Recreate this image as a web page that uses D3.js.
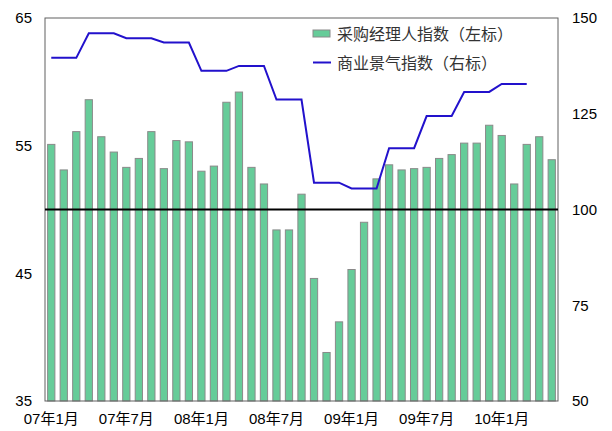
<!DOCTYPE html>
<html>
<head>
<meta charset="utf-8">
<script src="https://cdn.jsdelivr.net/npm/d3@7"></script>
<style>
  body { margin: 0; background: #fff; }
  text { font-family: Arial, "Liberation Sans", "Noto Sans CJK SC", sans-serif; }
</style>
</head>
<body>
<svg id="chart"></svg>
<script>
// months 07年1月 .. 10年5月
let months = []
for (let y = 7; y <= 10; y++) {
  for (let m = 1; m <= 12; m++) {
    if (y === 10 && m > 5) break
    months.push("0".concat(y).slice(-2) + "年" + m + "月")
  }
}

let pmi = [55.1, 53.1, 56.1, 58.6, 55.7, 54.5, 53.3, 54.0, 56.1, 53.2, 55.4, 55.3,
  53.0, 53.4, 58.4, 59.2, 53.3, 52.0, 48.4, 48.4, 51.2, 44.6, 38.8, 41.2,
  45.3, 49.0, 52.4, 53.5, 53.1, 53.2, 53.3, 54.0, 54.3, 55.2, 55.2, 56.6,
  55.8, 52.0, 55.1, 55.7, 53.9]

let business = [139.6, 139.6, 139.6, 146, 146, 146, 144.7, 144.7, 144.7, 143.6, 143.6, 143.6,
  136.2, 136.2, 136.2, 137.5, 137.5, 137.5, 128.7, 128.7, 128.7, 107, 107, 107,
  105.5, 105.5, 105.5, 116, 116, 116, 124.4, 124.4, 124.4, 130.7, 130.7, 130.7,
  132.8, 132.8, 132.8]

let leftTicks = [35, 45, 55, 65]
let rightTicks = [50, 75, 100, 125, 150]
let xLabels = ["07年1月", "07年7月", "08年1月", "08年7月", "09年1月", "09年7月", "10年1月"]
let legendNames = ["采购经理人指数（左标）", "商业景气指数（右标）"]

let width = 612, height = 431
let margin = {top: 18, right: 54, bottom: 30, left: 45}

let svg = d3.select("#chart")
  .attr("width", width)
  .attr("height", height)

let x = d3.scaleBand()
  .domain(months)
  .range([margin.left, width - margin.right])
  .paddingInner(0.42)
  .paddingOuter(0.21)

let yL = d3.scaleLinear().domain([35, 65]).range([height - margin.bottom, margin.top])
let yR = d3.scaleLinear().domain([50, 150]).range([height - margin.bottom, margin.top])

// bars
svg.append("g").selectAll("rect")
  .data(pmi)
  .enter()
  .append("rect")
  .attr("x", (d, i) => x(months[i]))
  .attr("y", d => yL(d))
  .attr("width", x.bandwidth())
  .attr("height", d => yL(35) - yL(d))
  .attr("fill", "#66cc99")
  .attr("stroke", "#8a8a8a")
  .attr("stroke-width", 1)

// frame
svg.append("rect")
  .attr("x", margin.left)
  .attr("y", margin.top)
  .attr("width", width - margin.left - margin.right)
  .attr("height", height - margin.top - margin.bottom)
  .attr("fill", "none")
  .attr("stroke", "#606060")
  .attr("stroke-width", 1)

// 50 / 100 line
svg.append("line")
  .attr("x1", margin.left)
  .attr("x2", width - margin.right)
  .attr("y1", yL(50))
  .attr("y2", yL(50))
  .attr("stroke", "#000")
  .attr("stroke-width", 2)

// business index line
let line = d3.line()
  .x((d, i) => x(months[i]) + x.bandwidth() / 2)
  .y(d => yR(d))

svg.append("path")
  .datum(business)
  .attr("d", line)
  .attr("fill", "none")
  .attr("stroke", "#2211cc")
  .attr("stroke-width", 2)

// axes
let leftAxis = d3.axisLeft(yL).tickValues(leftTicks).tickSize(0).tickPadding(13)
svg.append("g")
  .attr("transform", "translate(" + margin.left + ",0)")
  .call(leftAxis)
  .call(g => g.select(".domain").remove())
  .selectAll("text")
  .attr("font-size", 15)
  .attr("fill", "#000")

let rightAxis = d3.axisRight(yR).tickValues(rightTicks).tickSize(0).tickPadding(14)
svg.append("g")
  .attr("transform", "translate(" + (width - margin.right) + ",0)")
  .call(rightAxis)
  .call(g => g.select(".domain").remove())
  .selectAll("text")
  .attr("font-size", 15)
  .attr("fill", "#000")

let bottomAxis = d3.axisBottom(x).tickValues(xLabels).tickSize(0).tickPadding(12)
svg.append("g")
  .attr("transform", "translate(0," + (height - margin.bottom) + ")")
  .call(bottomAxis)
  .call(g => g.select(".domain").remove())
  .selectAll("text")
  .attr("font-size", 15)
  .attr("fill", "#000")

// legend
let legend = svg.append("g").attr("transform", "translate(313,0)")
legend.append("rect")
  .attr("x", 0).attr("y", 30)
  .attr("width", 17).attr("height", 7)
  .attr("fill", "#66cc99")
  .attr("stroke", "#8a8a8a")
legend.append("line")
  .attr("x1", 0).attr("x2", 18)
  .attr("y1", 62.5).attr("y2", 62.5)
  .attr("stroke", "#2211cc")
  .attr("stroke-width", 2)
legend.selectAll("text.lg")
  .data(legendNames)
  .enter()
  .append("text")
  .attr("class", "lg")
  .attr("x", 24)
  .attr("y", (d, i) => 34 + i * 29)
  .attr("dy", "0.35em")
  .attr("font-size", 16)
  .attr("fill", "#333")
  .attr("font-family", "'Noto Sans CJK SC', sans-serif")
  .text(d => d)
</script>
</body>
</html>
